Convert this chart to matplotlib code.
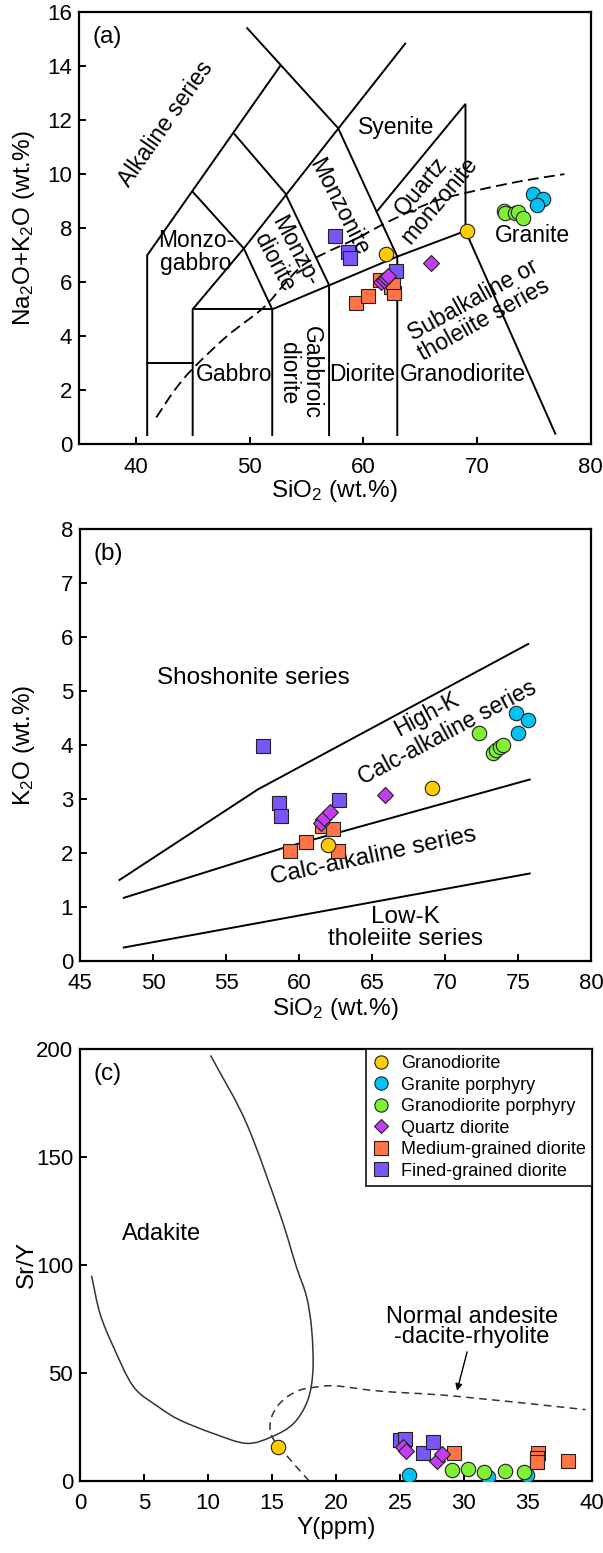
import numpy as np
import matplotlib
matplotlib.use('Agg')
import matplotlib.pyplot as plt
from matplotlib.lines import Line2D
from matplotlib.path import Path
from matplotlib.patches import PathPatch

plt.rcParams['font.family'] = ['Liberation Sans', 'DejaVu Sans']
plt.rcParams['mathtext.default'] = 'regular'

# ---- (a) TAS diagram, field boundaries (SiO2, Na2O+K2O)
tas_solid = [
  [(41, 0.35), (41, 7.0), (52.7, 14.0)],
  [(49.8, 15.4), (57.8, 11.7), (63, 6.95), (63, 0.35)],
  [(45, 9.35), (49.5, 7.25), (52, 5.0), (52, 0.35)],
  [(45, 0.35), (45, 5.0), (49.5, 7.25), (63.7, 14.83)],
  [(48.7, 11.47), (53.15, 9.29), (57, 5.9), (57, 0.35)],
  [(45, 5.0), (52, 5.0)],
  [(41, 3.0), (45, 3.0)],
  [(52, 5.0), (63, 6.95), (69, 7.9), (76.9, 0.4)],
  [(61.3, 8.67), (69, 12.6), (69, 7.9)],
]
tas_dash_x = [41.8, 43.4, 45.0, 48.0, 51.2, 53.0, 54.6, 56.5, 59.3, 62.5, 66.3, 70.0, 74.0, 77.7]
tas_dash_y = [1.0, 2.0, 2.8, 4.0, 5.05, 5.9, 6.6, 7.05, 7.6, 8.3, 9.0, 9.4, 9.75, 10.0]

a_grd_x = [62.0, 69.1]
a_grd_y = [7.05, 7.9]
a_gp_x = [74.9, 75.8, 75.25]
a_gp_y = [9.25, 9.07, 8.85]
a_gdp_x = [72.4, 72.5, 73.4, 73.6, 74.1]
a_gdp_y = [8.65, 8.55, 8.55, 8.6, 8.38]
a_qd_x = [61.6, 61.8, 62.0, 62.2, 66.0]
a_qd_y = [6.0, 6.08, 6.15, 6.25, 6.72]
a_mgd_x = [59.4, 60.45, 61.5, 62.45, 62.75, 62.6]
a_mgd_y = [5.24, 5.49, 6.08, 5.83, 5.61, 6.0]
a_fgd_x = [57.5, 58.7, 58.8, 62.9]
a_fgd_y = [7.72, 7.13, 6.88, 6.41]

# ---- (b) SiO2 vs K2O
k_high_x = [47.7, 57.2, 75.7]
k_high_y = [1.5, 3.18, 5.87]
k_mid_x = [48.0, 59.0, 75.8]
k_mid_y = [1.17, 2.1, 3.36]
k_low_x = [48.0, 75.8]
k_low_y = [0.25, 1.62]

b_grd_x = [62.0, 69.1]
b_grd_y = [2.14, 3.21]
b_gp_x = [74.86, 75.7, 75.0]
b_gp_y = [4.6, 4.46, 4.22]
b_gdp_x = [72.33, 73.3, 73.5, 73.77, 74.0]
b_gdp_y = [4.22, 3.85, 3.91, 3.97, 4.0]
b_qd_x = [61.5, 61.7, 62.1, 65.9]
b_qd_y = [2.55, 2.65, 2.75, 3.07]
b_mgd_x = [59.4, 60.5, 61.6, 62.35, 62.7]
b_mgd_y = [2.04, 2.21, 2.5, 2.44, 2.04]
b_fgd_x = [57.5, 58.65, 58.75, 62.76]
b_fgd_y = [3.98, 2.93, 2.69, 2.98]

# ---- (c) Y vs Sr/Y
adakite_x = [0.9, 1.56, 2.6, 4.17, 6.1, 7.8, 10.4, 13.0, 15.0, 16.7, 17.8, 18.2, 18.1, 17.7, 16.9, 15.6, 13.0, 10.2]
adakite_y = [95, 77.5, 62.2, 43.7, 34.4, 28.2, 22.0, 17.4, 20.5, 26.7, 37.5, 51.4, 70, 85.3, 99.2, 123.9, 165.6, 197]
adr_x = [17.9, 16.4, 15.0, 14.9, 15.4, 16.2, 17.2, 18.5, 20.0, 23.4, 29.4, 39.5]
adr_y = [0, 10, 20.5, 28, 34.4, 39, 42.1, 43.5, 44, 41.6, 39.2, 33]

c_grd_x = [15.5]
c_grd_y = [15.6]
c_gp_x = [25.7, 31.85, 34.9]
c_gp_y = [2.8, 2.0, 2.8]
c_gdp_x = [29.1, 30.3, 31.6, 33.2, 34.7]
c_gdp_y = [5.1, 5.4, 4.0, 4.8, 4.3]
c_qd_x = [25.2, 25.5, 27.9, 28.3]
c_qd_y = [15.5, 14.0, 9.0, 12.5]
c_mgd_x = [29.2, 35.8, 35.7, 35.7, 38.15]
c_mgd_y = [13.1, 12.8, 10.5, 8.9, 9.3]
c_fgd_x = [25.0, 25.4, 26.8, 27.6]
c_fgd_y = [19.0, 19.3, 13.1, 18.2]

names = ['Granodiorite', 'Granite porphyry', 'Granodiorite porphyry',
         'Quartz diorite', 'Medium-grained diorite', 'Fined-grained diorite']
styles = {
  'Granodiorite': ('o', '#FFCC00', 108),
  'Granite porphyry': ('o', '#00C3F5', 108),
  'Granodiorite porphyry': ('o', '#80F035', 108),
  'Quartz diorite': ('D', '#C43CF5', 66),
  'Medium-grained diorite': ('s', '#FF7447', 108),
  'Fined-grained diorite': ('s', '#7A55F8', 108),
}
# draw order: later groups sit on top
order = ['Granite porphyry', 'Granodiorite porphyry', 'Medium-grained diorite',
         'Fined-grained diorite', 'Quartz diorite', 'Granodiorite']

FS_TICK = 16
FS_LAB = 17.5
FS_A = 16.5
FS_B = 17.5

fig = plt.figure(figsize=(6.03, 15.53), dpi=100)
axa = fig.add_axes([0.1310, 0.7138, 0.8483, 0.2785])
axb = fig.add_axes([0.1327, 0.3812, 0.8474, 0.2782])
axc = fig.add_axes([0.1327, 0.0464, 0.8490, 0.2782])


def style_axes(ax):
  for s in ax.spines.values():
    s.set_linewidth(1.6)
  ax.tick_params(direction='in', length=5, width=1.4, labelsize=FS_TICK)
  ax.tick_params(axis='x', pad=9)
  ax.tick_params(axis='y', pad=5)


def smooth_curve(ax, xs, ys, **kw):
  # Catmull-Rom through the given points, drawn as cubic Bezier segments
  p = np.column_stack([xs, ys]).astype(float)
  ext = np.vstack([2 * p[0] - p[1], p, 2 * p[-1] - p[-2]])
  verts = [p[0]]
  codes = [Path.MOVETO]
  for i in range(1, len(ext) - 2):
    p0, p1, p2, p3 = ext[i - 1], ext[i], ext[i + 1], ext[i + 2]
    verts += [p1 + (p2 - p0) / 6.0, p2 - (p3 - p1) / 6.0, p2]
    codes += [Path.CURVE4] * 3
  ax.add_patch(PathPatch(Path(verts, codes), fill=False, **kw))


def draw_points(ax, groups):
  for name in order:
    x, y = groups[name]
    m, c, s = styles[name]
    ax.scatter(x, y, marker=m, s=s, facecolor=c, edgecolor='#222222',
               linewidths=0.8, zorder=3 + order.index(name), label=name)


def labels(ax, xl, yl, xy_off, yx_off):
  ax.set_xlabel(xl, fontsize=FS_LAB)
  ax.set_ylabel(yl, fontsize=FS_LAB)
  ax.xaxis.set_label_coords(0.5, xy_off)
  ax.yaxis.set_label_coords(yx_off, 0.5)


# (a)
ax = axa
style_axes(ax)
for seg in tas_solid:
  xs, ys = zip(*seg)
  ax.plot(xs, ys, color='k', lw=1.4, solid_joinstyle='miter')
smooth_curve(ax, tas_dash_x, tas_dash_y, edgecolor='k', lw=1.3, ls=(0, (6, 3)))
draw_points(ax, {
  'Granodiorite': (a_grd_x, a_grd_y),
  'Granite porphyry': (a_gp_x, a_gp_y),
  'Granodiorite porphyry': (a_gdp_x, a_gdp_y),
  'Quartz diorite': (a_qd_x, a_qd_y),
  'Medium-grained diorite': (a_mgd_x, a_mgd_y),
  'Fined-grained diorite': (a_fgd_x, a_fgd_y),
})
ax.text(0.027, 0.968, '(a)', transform=ax.transAxes, fontsize=FS_LAB, va='top')
kw = dict(fontsize=FS_A, ha='center', va='center', rotation_mode='anchor', linespacing=1.0)
ax.text(42.65, 11.85, 'Alkaline series', rotation=55, **kw)
ax.text(45.3, 7.13, 'Monzo-\ngabbro', **kw)
ax.text(53.1, 6.94, 'Monzp-\ndiorite', rotation=-62, **kw)
ax.text(57.9, 8.8, 'Monzonite', rotation=-63, **kw)
ax.text(62.87, 11.71, 'Syenite', **kw)
ax.text(65.9, 9.29, 'Quartz\nmonzonite', rotation=50, **kw)
ax.text(74.87, 7.74, 'Granite', **kw)
ax.text(48.68, 2.6, 'Gabbro', **kw)
ax.text(54.4, 2.65, 'Gabbroic\ndiorite', rotation=-90, **kw)
ax.text(59.95, 2.6, 'Diorite', **kw)
ax.text(68.75, 2.6, 'Granodiorite', **kw)
ax.text(70.16, 4.97, 'Subalkaline or\ntholeiite series', rotation=29, **kw)
ax.set_xlim(35, 80)
ax.set_ylim(0, 16)
ax.set_xticks([40, 50, 60, 70, 80])
ax.set_yticks(range(0, 17, 2))
labels(ax, 'SiO$_2$ (wt.%)', 'Na$_2$O+K$_2$O (wt.%)', -0.078, -0.082)

# (b)
ax = axb
style_axes(ax)
for xs, ys in [(k_high_x, k_high_y), (k_mid_x, k_mid_y), (k_low_x, k_low_y)]:
  ax.plot(xs, ys, color='k', lw=1.4)
draw_points(ax, {
  'Granodiorite': (b_grd_x, b_grd_y),
  'Granite porphyry': (b_gp_x, b_gp_y),
  'Granodiorite porphyry': (b_gdp_x, b_gdp_y),
  'Quartz diorite': (b_qd_x, b_qd_y),
  'Medium-grained diorite': (b_mgd_x, b_mgd_y),
  'Fined-grained diorite': (b_fgd_x, b_fgd_y),
})
ax.text(0.027, 0.968, '(b)', transform=ax.transAxes, fontsize=FS_LAB, va='top')
kw = dict(fontsize=FS_B, ha='center', va='center', rotation_mode='anchor', linespacing=0.95)
ax.text(56.85, 5.24, 'Shoshonite series', **kw)
kw_r = dict(kw, fontsize=16.5)
ax.text(68.77, 4.56, 'High-K', rotation=28, **kw_r)
ax.text(70.14, 4.22, 'Calc-alkaline series', rotation=28, **kw_r)
ax.text(65.1, 1.93, 'Calc-alkaline series', rotation=12, **kw)
ax.text(67.3, 0.61, 'Low-K\ntholeiite series', **kw)
ax.set_xlim(45, 80)
ax.set_ylim(0, 8)
ax.set_xticks(range(45, 81, 5))
ax.set_yticks(range(0, 9))
labels(ax, 'SiO$_2$ (wt.%)', 'K$_2$O (wt.%)', -0.081, -0.084)

# (c)
ax = axc
style_axes(ax)
smooth_curve(ax, adakite_x, adakite_y, edgecolor='#333333', lw=1.1)
smooth_curve(ax, adr_x, adr_y, edgecolor='#333333', lw=1.1, ls=(0, (5, 3.5)))
draw_points(ax, {
  'Granodiorite': (c_grd_x, c_grd_y),
  'Granite porphyry': (c_gp_x, c_gp_y),
  'Granodiorite porphyry': (c_gdp_x, c_gdp_y),
  'Quartz diorite': (c_qd_x, c_qd_y),
  'Medium-grained diorite': (c_mgd_x, c_mgd_y),
  'Fined-grained diorite': (c_fgd_x, c_fgd_y),
})
ax.text(0.027, 0.968, '(c)', transform=ax.transAxes, fontsize=FS_LAB, va='top')
kw = dict(fontsize=17, ha='center', va='center', rotation_mode='anchor', linespacing=0.9)
ax.text(6.33, 114.2, 'Adakite', **kw)
ax.text(30.6, 71.4, 'Normal andesite\n-dacite-rhyolite', **kw)
ax.annotate('', xy=(29.4, 40.5), xytext=(30.3, 61.0),
            arrowprops=dict(arrowstyle='-|>', color='k', lw=1.0, mutation_scale=10))
ax.set_xlim(0, 40)
ax.set_ylim(0, 200)
ax.set_xticks(range(0, 41, 5))
ax.set_yticks(range(0, 201, 50))
labels(ax, 'Y(ppm)', 'Sr/Y', -0.083, -0.083)

handles = []
for name in names:
  m, c, s = styles[name]
  handles.append(Line2D([], [], ls='none', marker=m, markersize=np.sqrt(s) * 0.92,
                        markerfacecolor=c, markeredgecolor='#222222', markeredgewidth=0.8))
leg = ax.legend(handles, names, loc='upper right', borderaxespad=0, fontsize=13,
                frameon=True, fancybox=False, handlelength=1.0, handletextpad=0.6,
                labelspacing=0.25, borderpad=0.35)
leg.get_frame().set_edgecolor('k')
leg.get_frame().set_linewidth(1.4)
leg.set_zorder(20)

fig.savefig('out.png', dpi=100)
